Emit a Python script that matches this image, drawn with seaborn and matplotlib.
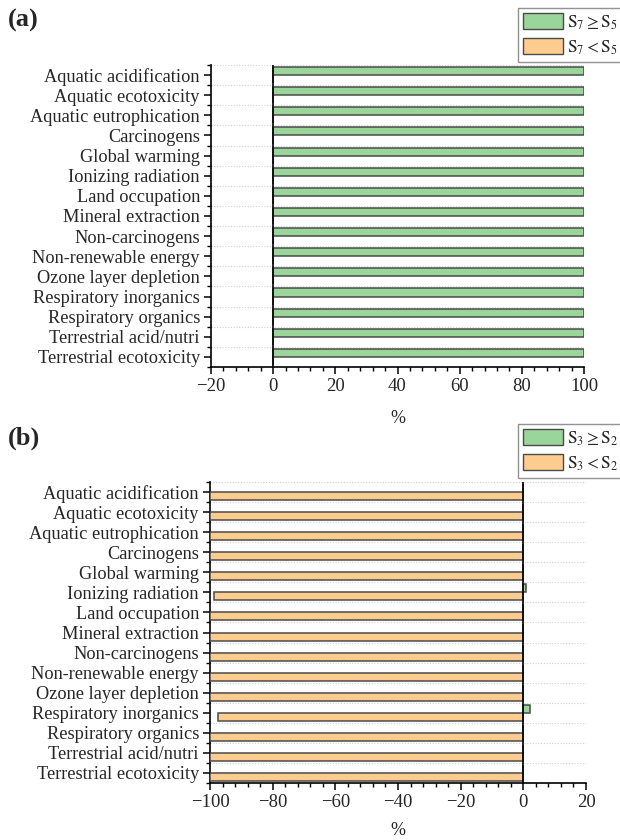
import matplotlib
matplotlib.use("Agg")
import matplotlib.pyplot as plt
from matplotlib.patches import Patch
from matplotlib.ticker import MultipleLocator, FixedLocator
import numpy as np
import pandas as pd
import seaborn as sns

# Impact categories (top to bottom)
categories = [
    "Aquatic acidification", "Aquatic ecotoxicity", "Aquatic eutrophication",
    "Carcinogens", "Global warming", "Ionizing radiation", "Land occupation",
    "Mineral extraction", "Non-carcinogens", "Non-renewable energy",
    "Ozone layer depletion", "Respiratory inorganics", "Respiratory organics",
    "Terrestrial acid/nutri", "Terrestrial ecotoxicity",
]

# Panel (a): share (%) of cases with S7 >= S5 and S7 < S5
a_ge = [100, 100, 100, 100, 100, 100, 100, 100, 100, 100, 100, 100, 100, 100, 100]
a_lt = [0, 0, 0, 0, 0, 0, 0, 0, 0, 0, 0, 0, 0, 0, 0]

# Panel (b): share (%) of cases with S3 >= S2 (positive) and S3 < S2 (negative)
b_ge = [0, 0, 0, 0, 0, 0.7, 0, 0, 0, 0, 0, 2.0, 0, 0, 0]
b_lt = [-100, -100, -100, -100, -100, -98.7, -100, -100, -100, -100, -100, -97.3, -100, -100, -100]

labels_a = [r"$\mathrm{S_7 \geq S_5}$", r"$\mathrm{S_7 < S_5}$"]
labels_b = [r"$\mathrm{S_3 \geq S_2}$", r"$\mathrm{S_3 < S_2}$"]

GREEN = "#9AD69A"
ORANGE = "#FFCC90"
EDGE = "#4a4a4a"

sns.set_theme(style="white")
plt.rcParams["font.family"] = ["Liberation Serif", "DejaVu Serif"]
plt.rcParams["mathtext.fontset"] = "stix"

W, H = 620, 840


def long_frame(ge, lt, labels):
    return pd.DataFrame({
        "category": categories * 2,
        "value": list(ge) + list(lt),
        "group": [labels[0]] * len(categories) + [labels[1]] * len(categories),
    })


def draw_panel(ax, ge, lt, labels, xlim, xticks, tag, tag_y, legend_y, xlabel_pad):
    df = long_frame(ge, lt, labels)
    sns.barplot(data=df, x="value", y="category", hue="group",
                hue_order=labels, order=categories, orient="h",
                palette={labels[0]: GREEN, labels[1]: ORANGE},
                saturation=1, width=0.8, edgecolor=EDGE, linewidth=1.1,
                errorbar=None, ax=ax, zorder=3)
    if ax.get_legend() is not None:
        ax.get_legend().remove()

    ax.set_xlim(*xlim)
    ax.set_ylim(len(categories) - 0.5, -0.5)
    ax.set_xticks(xticks)
    ax.set_xticklabels([f"{t:d}".replace("-", "\u2212") for t in xticks])
    ax.xaxis.set_minor_locator(MultipleLocator(4))
    ax.yaxis.set_minor_locator(FixedLocator(np.arange(-0.5, len(categories), 1.0)))

    ax.axvline(0, color="black", lw=1.2, zorder=4)
    ax.grid(False)
    ax.grid(True, axis="y", which="minor", linestyle=(0, (1, 1.5)),
            color="#d0d0d0", lw=0.8, zorder=0)

    for s in ("top", "right"):
        ax.spines[s].set_visible(False)
    for s in ("left", "bottom"):
        ax.spines[s].set_color("black")
        ax.spines[s].set_linewidth(1.2)

    ax.tick_params(axis="both", which="major", direction="out", length=5,
                   width=1.1, color="black", left=True, bottom=True)
    ax.tick_params(axis="both", which="minor", direction="out", length=3,
                   width=1.0, color="black", left=True, bottom=True)
    ax.tick_params(axis="y", labelsize=13.2, pad=3)
    ax.tick_params(axis="x", labelsize=13.5, pad=3)
    ax.set_ylabel("")
    ax.set_xlabel("%", fontsize=13, labelpad=xlabel_pad)

    handles = [Patch(facecolor=GREEN, edgecolor=EDGE, lw=1.0),
               Patch(facecolor=ORANGE, edgecolor=EDGE, lw=1.0)]
    fig.legend(handles, labels, loc="upper left",
               bbox_to_anchor=(518 / W, 1 - legend_y / H), fontsize=12.5,
               frameon=True, fancybox=False, edgecolor="#777777",
               handlelength=2.3, handleheight=1.0, handletextpad=0.25,
               borderpad=0.3, labelspacing=0.38, borderaxespad=0)
    fig.text(8 / W, 1 - tag_y / H, tag, fontsize=19, fontweight="bold",
             va="center", ha="left")


fig = plt.figure(figsize=(W / 100, H / 100), dpi=100)
ax_a = fig.add_axes([211 / W, 1 - 367 / H, (584 - 211) / W, (367 - 65) / H])
ax_b = fig.add_axes([210 / W, 1 - 783 / H, (586 - 210) / W, (783 - 482) / H])

draw_panel(ax_a, a_ge, a_lt, labels_a, (-20, 100), list(range(-20, 101, 20)), "(a)", 20, 8, 11)
draw_panel(ax_b, b_ge, b_lt, labels_b, (-100, 20), list(range(-100, 21, 20)), "(b)", 438, 424, 8)

fig.savefig("out.png", dpi=100)
